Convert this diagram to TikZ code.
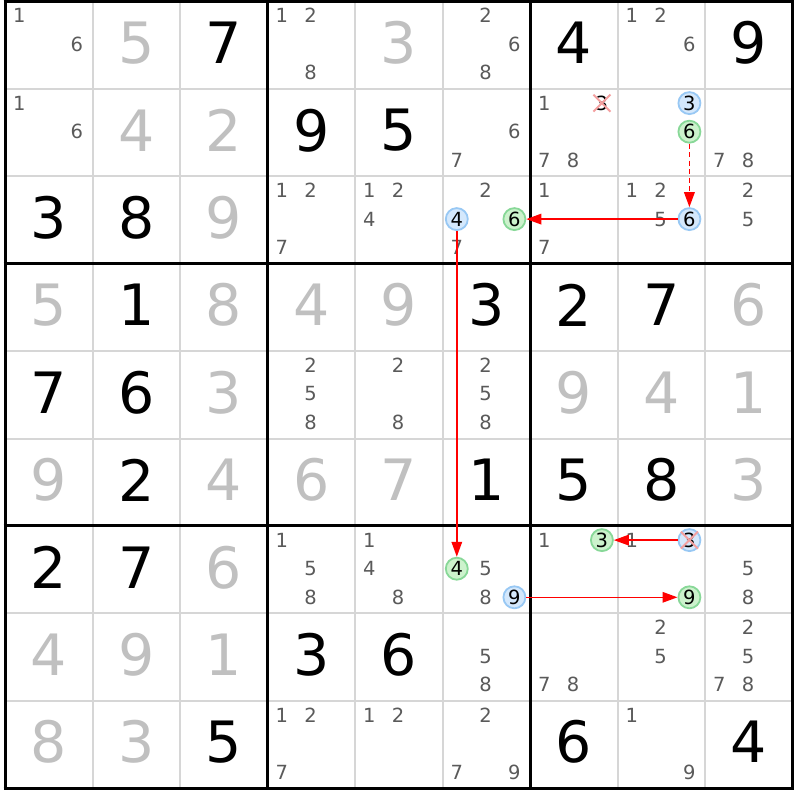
\documentclass[tikz,border=0pt]{standalone}
\usepackage{fontspec}
\setmainfont{DejaVu Sans}
\usetikzlibrary{arrows.meta}
\definecolor{candc}{HTML}{5A5A5A}
\definecolor{solvedc}{HTML}{C0C0C0}
\definecolor{thinc}{HTML}{D6D6D6}
\definecolor{bluefill}{HTML}{D4E8FC}
\definecolor{blueline}{HTML}{98C8F4}
\definecolor{greenfill}{HTML}{CCF2CC}
\definecolor{greenline}{HTML}{88D898}
\definecolor{crossc}{HTML}{F4A0A0}
\definecolor{linkc}{HTML}{FF0000}
\tikzset{
  bigdigit/.style={font=\fontsize{57}{60}\selectfont, inner sep=0pt},
  givendigit/.style={bigdigit, text=black},
  solveddigit/.style={bigdigit, text=solvedc},
  candmark/.style={font=\fontsize{19.5}{20}\selectfont, text=candc, inner sep=0pt},
  hlblue/.style={circle, draw=blueline, fill=bluefill, line width=1.8pt, minimum size=22pt, inner sep=0pt, font=\fontsize{19.5}{20}\selectfont, text=black},
  hlgreen/.style={hlblue, draw=greenline, fill=greenfill},
  link/.style={draw=linkc, line width=1.6pt, -{Triangle[length=15pt,width=10.5pt,color=linkc]}},
  dashlink/.style={link, line width=1.8pt, dash pattern=on 5pt off 3.5pt},
  crossline/.style={crossc, line width=2pt},
  thinline/.style={thinc, line width=2pt},
  thickline/.style={black, line width=3pt},
}
\newcommand\setpos[3]{\pgfmathsetmacro\px{5+(#2-1)*87.5+14.3+mod(#3-1,3)*28.8}\pgfmathsetmacro\py{1.5+(#1-1)*87.4+14.2+floor((#3-1)/3)*28.6}}
\begin{document}
\begin{tikzpicture}[x=1pt,y=-1pt]
\useasboundingbox (0,0) rectangle (800,800);
\fill[white] (0,0) rectangle (800,800);
% thin grid
\foreach \i in {1,2,4,5,7,8} {
  \draw[thinline] ({5+\i*87.5},1.5) -- ({5+\i*87.5},788.1);
  \draw[thinline] (5,{1.5+\i*87.4}) -- (792.5,{1.5+\i*87.4});
}
% thick grid
\foreach \i in {0,3,6,9} {
  \draw[thickline] ({5+\i*87.5},0) -- ({5+\i*87.5},789.6);
  \draw[thickline] (3.5,{1.5+\i*87.4}) -- (794,{1.5+\i*87.4});
}
% big digits
\foreach \r/\c/\d/\t in {
 1/2/5/solveddigit, 1/3/7/givendigit, 1/5/3/solveddigit, 1/7/4/givendigit, 1/9/9/givendigit,
 2/2/4/solveddigit, 2/3/2/solveddigit, 2/4/9/givendigit, 2/5/5/givendigit,
 3/1/3/givendigit, 3/2/8/givendigit, 3/3/9/solveddigit,
 4/1/5/solveddigit, 4/2/1/givendigit, 4/3/8/solveddigit, 4/4/4/solveddigit, 4/5/9/solveddigit, 4/6/3/givendigit, 4/7/2/givendigit, 4/8/7/givendigit, 4/9/6/solveddigit,
 5/1/7/givendigit, 5/2/6/givendigit, 5/3/3/solveddigit, 5/7/9/solveddigit, 5/8/4/solveddigit, 5/9/1/solveddigit,
 6/1/9/solveddigit, 6/2/2/givendigit, 6/3/4/solveddigit, 6/4/6/solveddigit, 6/5/7/solveddigit, 6/6/1/givendigit, 6/7/5/givendigit, 6/8/8/givendigit, 6/9/3/solveddigit,
 7/1/2/givendigit, 7/2/7/givendigit, 7/3/6/solveddigit,
 8/1/4/solveddigit, 8/2/9/solveddigit, 8/3/1/solveddigit, 8/4/3/givendigit, 8/5/6/givendigit,
 9/1/8/solveddigit, 9/2/3/solveddigit, 9/3/5/givendigit, 9/7/6/givendigit, 9/9/4/givendigit} {
  \node[\t] (v\r\c) at ({5+(\c-1)*87.5+44},{1.5+(\r-1)*87.4+41.5}) {\d};
}
% candidates
\foreach \r/\c/\ds in {
 1/1/{1,6}, 1/4/{1,2,8}, 1/6/{2,6,8}, 1/8/{1,2,6},
 2/1/{1,6}, 2/6/{6,7}, 2/7/{1,7,8}, 2/9/{7,8},
 3/4/{1,2,7}, 3/5/{1,2,4}, 3/6/{2,7}, 3/7/{1,7}, 3/8/{1,2,5}, 3/9/{2,5},
 5/4/{2,5,8}, 5/5/{2,8}, 5/6/{2,5,8},
 7/4/{1,5,8}, 7/5/{1,4,8}, 7/6/{5,8}, 7/7/{1}, 7/8/{1}, 7/9/{5,8},
 8/6/{5,8}, 8/7/{7,8}, 8/8/{2,5}, 8/9/{2,5,7,8},
 9/4/{1,2,7}, 9/5/{1,2}, 9/6/{2,7,9}, 9/8/{1,9}} {
  \foreach \d in \ds {
    \setpos{\r}{\c}{\d}
    \node[candmark] (c\r\c\d) at (\px,\py) {\d};
  }
}
% crossed candidate without circle
\setpos{2}{7}{3}\node[candmark, text=black] (x1) at (\px,\py) {3};
\draw[crossline] ([shift={(-8.5,-8.5)}]x1.center) -- ([shift={(8.5,8.5)}]x1.center);
\draw[crossline] ([shift={(-8.5,8.5)}]x1.center) -- ([shift={(8.5,-8.5)}]x1.center);
% highlighted candidates
\setpos{2}{8}{3}\node[hlblue] (b1) at (\px,\py) {3};
\setpos{2}{8}{6}\node[hlgreen] (g1) at (\px,\py) {6};
\setpos{3}{8}{6}\node[hlblue] (b2) at (\px,\py) {6};
\setpos{3}{6}{6}\node[hlgreen] (g2) at (\px,\py) {6};
\setpos{3}{6}{4}\node[hlblue] (b3) at (\px,\py) {4};
\setpos{7}{6}{4}\node[hlgreen] (g3) at (\px,\py) {4};
\setpos{7}{6}{9}\node[hlblue] (b4) at (\px,\py) {9};
\setpos{7}{8}{9}\node[hlgreen] (g4) at (\px,\py) {9};
\setpos{7}{8}{3}\node[hlblue] (b5) at (\px,\py) {3};
\setpos{7}{7}{3}\node[hlgreen] (g5) at (\px,\py) {3};
\draw[crossline] ([shift={(-8.5,-8.5)}]b5.center) -- ([shift={(8.5,8.5)}]b5.center);
\draw[crossline] ([shift={(-8.5,8.5)}]b5.center) -- ([shift={(8.5,-8.5)}]b5.center);
% links
\draw[dashlink] (g1) -- (b2);
\draw[link] (b2) -- (g2);
\draw[link] (b3) -- (g3);
\draw[link] (b4) -- (g4);
\draw[link] (b5) -- (g5);
\end{tikzpicture}
\end{document}
